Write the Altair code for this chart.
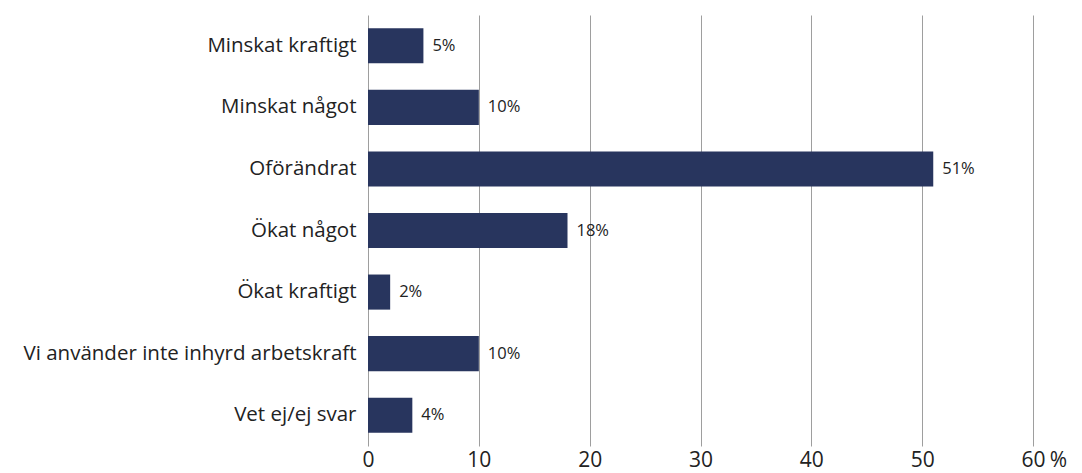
import altair as alt
import pandas as pd

categories = [
    "Minskat kraftigt",
    "Minskat något",
    "Oförändrat",
    "Ökat något",
    "Ökat kraftigt",
    "Vi använder inte inhyrd arbetskraft",
    "Vet ej/ej svar",
]
values = [5, 10, 51, 18, 2, 10, 4]
value_labels = ["5%", "10%", "51%", "18%", "2%", "10%", "4%"]
x_ticks = [0, 10, 20, 30, 40, 50, 60]

df = pd.DataFrame({"cat": categories, "val": values, "lab": value_labels})

FONT = "Open Sans"
BAR = "#28355e"
TXT = "#222222"

base = alt.Chart(df)

y_enc = alt.Y(
    "cat:N",
    sort=categories,
    title=None,
    scale=alt.Scale(paddingInner=0.43, paddingOuter=0.215),
    axis=alt.Axis(
        labelFont=FONT, labelFontSize=20.5, labelColor=TXT,
        labelPadding=12, labelLimit=400, ticks=False, domain=False, grid=False,
    ),
)

x_enc = alt.X(
    "val:Q",
    title="%",
    scale=alt.Scale(domain=[0, 60], nice=False),
    axis=alt.Axis(
        values=x_ticks, labelFont=FONT, labelFontSize=21, labelColor=TXT,
        labelPadding=3, labelFlush=False, ticks=False, domain=False, grid=True,
        gridColor="#9e9e9e", gridWidth=1,
        titleFont=FONT, titleFontSize=21, titleFontWeight="normal", titleColor=TXT,
        titleX=690, titleY=3, titleAlign="center", titleBaseline="top",
    ),
)

bars = base.mark_bar(color=BAR).encode(x=x_enc, y=y_enc)

texts = base.mark_text(
    align="left", baseline="middle", dx=9, font=FONT, fontSize=16.5, color=TXT
).encode(
    x="val:Q",
    y=alt.Y("cat:N", sort=categories),
    text="lab:N",
)

chart = (
    (bars + texts)
    .properties(
        width=665, height=431,
        padding={"left": 360, "top": 7, "right": 38, "bottom": 27},
        autosize=alt.AutoSizeParams(type="none"),
        background="white",
    )
    .configure_view(strokeWidth=0)
    .configure_axis(domain=False)
)

chart.save("out.html", embed_options={"renderer": "svg", "actions": False})
